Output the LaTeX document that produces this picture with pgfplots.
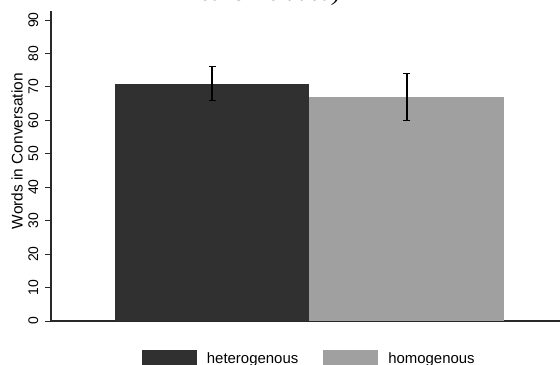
\documentclass[border=0pt]{standalone}
\usepackage{pgfplots}
\pgfplotsset{compat=1.18}
\usepackage{fontspec}
\setmainfont{Liberation Sans}
\newfontfamily\titlefont{Liberation Serif}

\definecolor{darkbar}{RGB}{48,48,48}
\definecolor{lightbar}{RGB}{160,160,160}
\definecolor{axisgray}{RGB}{40,40,40}

\begin{document}
\begin{tikzpicture}
% page frame: the plot area starts at (0,0)
\path[use as bounding box, clip] (-51bp,-44bp) rectangle (509bp,321bp);
\begin{axis}[
  scale only axis,
  width=509bp, height=310bp,
  xmin=-0.826, xmax=1.785,
  ymin=0, ymax=92.7,
  axis x line*=bottom, axis y line*=left,
  axis line style={-, line width=1.1bp, axisgray},
  xtick=\empty,
  ytick={0,10,...,90},
  tick align=outside,
  major tick length=6bp,
  tick style={line width=1bp, axisgray},
  /pgf/number format/assume math mode=true,
  yticklabel style={rotate=90, anchor=south, inner sep=0pt, yshift=6.5bp,
    font=\fontsize{14}{16}\selectfont},
  ylabel={Words in Conversation},
  ylabel style={at={(axis description cs:-0.0668,0.548)}, anchor=center,
    rotate=0, font=\fontsize{15.5}{18}\selectfont},
  title={\itshape means included)},
  title style={at={(axis description cs:0.4145,1.013)}, anchor=base,
    font=\titlefont\fontsize{24}{28}\selectfont},
  ybar, bar width=1, bar shift=0pt,
  legend columns=2,
  legend style={at={(axis description cs:0.1782,-0.0935)}, anchor=north west,
    draw=none, fill=none, inner sep=0pt, column sep=10bp,
    nodes={inner sep=0pt, font=\fontsize{15}{18}\selectfont},
    /tikz/every even column/.append style={column sep=25bp}},
  legend image code/.code={\fill[#1] (0bp,-10bp) rectangle (55bp,8.7bp);},
  error bars/error bar style={line width=1.1bp, black},
  error bars/error mark options={rotate=90, mark size=3.5bp, line width=1.1bp, black},
]
\addplot[fill=darkbar, draw=none,
  error bars/.cd, y dir=both, y explicit]
  coordinates {(0,71) +- (0,5)};
\addlegendentry{heterogenous}
\addplot[fill=lightbar, draw=none,
  error bars/.cd, y dir=both, y explicit]
  coordinates {(1,67) +- (0,7)};
\addlegendentry{homogenous}
\end{axis}
\end{tikzpicture}
\end{document}
